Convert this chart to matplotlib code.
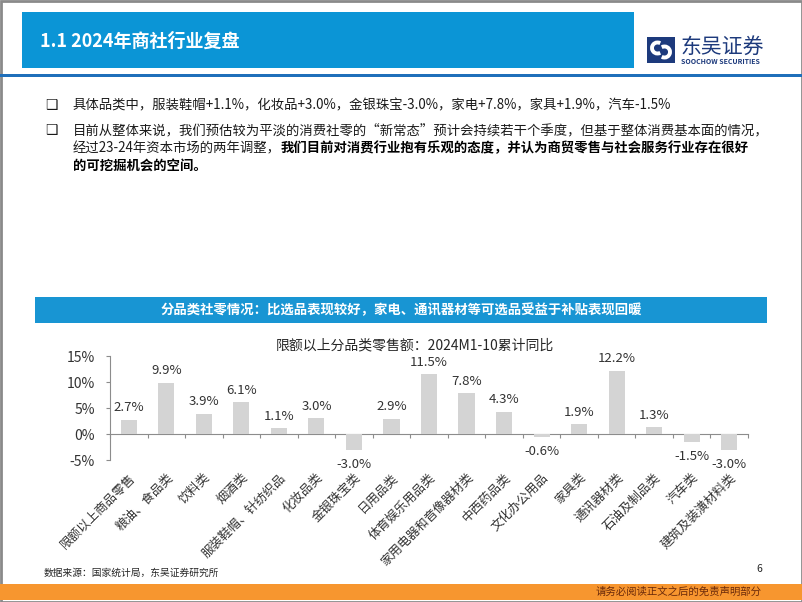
import numpy as np
import matplotlib
matplotlib.use('Agg')
import matplotlib.pyplot as plt
from matplotlib.patches import Rectangle, Arc

plt.rcParams['font.family'] = ['Noto Sans CJK SC', 'DejaVu Sans']

# 数据：限额以上分品类零售额 2024M1-10 累计同比(%)
categories = ['限额以上商品零售', '粮油、食品类', '饮料类', '烟酒类', '服装鞋帽、针纺织品',
              '化妆品类', '金银珠宝类', '日用品类', '体育娱乐用品类', '家用电器和音像器材类',
              '中西药品类', '文化办公用品', '家具类', '通讯器材类', '石油及制品类',
              '汽车类', '建筑及装潢材料类']
values = [2.7, 9.9, 3.9, 6.1, 1.1, 3.0, -3.0, 2.9, 11.5, 7.8, 4.3, -0.6, 1.9, 12.2, 1.3, -1.5, -3.0]
y_ticks = [-5, 0, 5, 10, 15]
y_tick_labels = ['-5%', '0%', '5%', '10%', '15%']

W, H = 802, 602
fig = plt.figure(figsize=(W / 100, H / 100), dpi=100)


def fx(x):
    return x / W


def fy(y):
    return 1 - y / H


def add_rect(x0, y0, x1, y1, **kw):
    # 像素坐标(左上原点)画矩形
    r = Rectangle((fx(x0), fy(y1)), (x1 - x0) / W, (y1 - y0) / H,
                  transform=fig.transFigure, **kw)
    fig.patches.append(r)
    return r


# 页面边框
add_rect(0.5, 0.5, W - 0.5, H - 0.5, fill=False, edgecolor='#8a8a8a', linewidth=2)

# 标题栏
add_rect(22, 12, 634, 68, color='#0b95d6', linewidth=0)
fig.text(fx(40), fy(41), '1.1 2024年商社行业复盘', color='white', fontsize=13,
         fontweight='bold', va='center')
add_rect(0, 74, W, 77, color='#1f6fba', linewidth=0)

# logo
navy = '#1d3a7c'
lax = fig.add_axes([fx(647), fy(63), 28 / W, 26 / H])
lax.set_xlim(0, 28)
lax.set_ylim(0, 26)
lax.axis('off')
lax.add_patch(Rectangle((0, 0), 28, 26, color=navy, linewidth=0))
lax.add_patch(Arc((10.5, 15), 11, 11, theta1=60, theta2=300, color='white', linewidth=2.8))
lax.add_patch(Arc((17.5, 11), 11, 11, theta1=240, theta2=120, color='white', linewidth=2.8))
fig.text(fx(680), fy(47), '东吴证券', color=navy, fontsize=15, va='center')
fig.text(fx(681), fy(61.5), 'SOOCHOW SECURITIES', color=navy, fontsize=5,
         fontweight='bold', va='center')

# 正文
txt_color = '#1a1a1a'
fs = 9.6
fig.text(fx(45), fy(105), '❑', fontsize=10, color=txt_color, va='center')
fig.text(fx(73), fy(105), '具体品类中，服装鞋帽+1.1%，化妆品+3.0%，金银珠宝-3.0%，家电+7.8%，家具+1.9%，汽车-1.5%',
         fontsize=fs, color=txt_color, va='center')
fig.text(fx(45), fy(130), '❑', fontsize=10, color=txt_color, va='center')
fig.text(fx(73), fy(130), '目前从整体来说，我们预估较为平淡的消费社零的“新常态”预计会持续若干个季度，但基于整体消费基本面的情况，',
         fontsize=fs, color=txt_color, va='center')
t3 = fig.text(fx(73), fy(148), '经过23-24年资本市场的两年调整，', fontsize=fs,
              color=txt_color, va='center')
fig.add_artist(plt.Annotation('我们目前对消费行业抱有乐观的态度，并认为商贸零售与社会服务行业存在很好',
                              xy=(1, 0), xycoords=t3, ha='left', va='bottom', fontsize=fs,
                              color='black', fontweight='bold', annotation_clip=False))
fig.text(fx(73), fy(166), '的可挖掘机会的空间。', fontsize=fs, color='black',
         fontweight='bold', va='center')

# 图表横幅
add_rect(35, 297, 767, 323, color='#1895d3', linewidth=0)
fig.text(fx(401), fy(310), '分品类社零情况：比选品表现较好，家电、通讯器材等可选品受益于补贴表现回暖',
         color='white', fontsize=9.6, fontweight='bold', ha='center', va='center')

# 柱状图
ax = fig.add_axes([fx(110), fy(460), (748 - 110) / W, (460 - 356) / H])
x = np.arange(len(categories))
bars = ax.bar(x, values, width=0.43, color='#d4d4d4', zorder=2)
ax.set_xlim(-0.5, len(categories) - 0.5)
ax.set_ylim(-5, 15)
ax.set_yticks(y_ticks)
ax.set_yticklabels(y_tick_labels)
ax.tick_params(axis='y', length=3, color='#8c8c8c', labelsize=10, labelcolor='#333333', pad=8)
ax.set_xticks(x)
ax.set_xticklabels(categories, rotation=45, ha='right', va='top', rotation_mode='anchor',
                   fontsize=9, color='#333333')
ax.tick_params(axis='x', length=0, pad=8)
for s in ['top', 'right', 'bottom']:
    ax.spines[s].set_visible(False)
ax.spines['left'].set_color('#8c8c8c')
ax.spines['left'].set_linewidth(0.8)

# 零轴及分隔刻度
zax = ax.secondary_xaxis(0.25)
zax.set_xticks(np.arange(len(categories) + 1) - 0.5)
zax.set_xticklabels([])
zax.tick_params(axis='x', length=3, direction='out', color='#8c8c8c', width=0.8)
zax.spines['bottom'].set_color('#8c8c8c')
zax.spines['bottom'].set_linewidth(0.8)

for b, v in zip(bars, values):
    off = 4 if v >= 0 else -6
    ax.annotate(f'{v:.1f}%', xy=(b.get_x() + b.get_width() / 2, v),
                xytext=(0, off), textcoords='offset points', ha='center',
                va='bottom' if v >= 0 else 'top', fontsize=9.5, color='#333333')

fig.text(fx(415), fy(345), '限额以上分品类零售额：2024M1-10累计同比', fontsize=10,
         color='#262626', ha='center', va='center')

# 页脚
fig.text(fx(44), fy(573), '数据来源：国家统计局，东吴证券研究所', fontsize=7, color='#262626', va='center')
fig.text(fx(756), fy(569), '6', fontsize=7.5, color='#262626', va='center')
add_rect(0, 584, W, 600, color='#f7962f', linewidth=0)
fig.text(fx(762), fy(592), '请务必阅读正文之后的免责声明部分', fontsize=7.5, color='#6b2a0a',
         ha='right', va='center')

fig.savefig('out.png', dpi=100)
